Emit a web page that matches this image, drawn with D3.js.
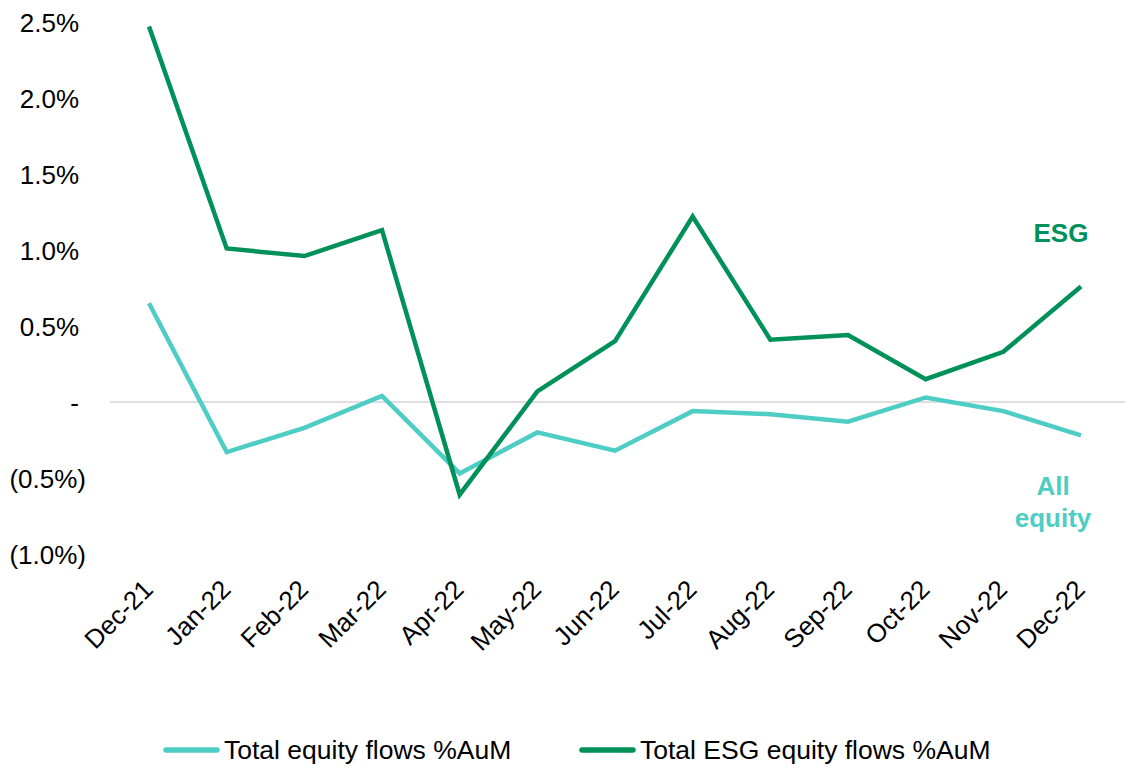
<!DOCTYPE html>
<html><head><meta charset="utf-8">
<script src="https://cdn.jsdelivr.net/npm/d3@7"></script>
<style>body{margin:0;background:#fff}svg{display:block;font-family:"Liberation Sans",Arial,sans-serif}</style>
</head><body><svg id="c" width="1125" height="768"></svg>
<script>
const categories = ["Dec-21","Jan-22","Feb-22","Mar-22","Apr-22","May-22","Jun-22","Jul-22","Aug-22","Sep-22","Oct-22","Nov-22","Dec-22"];
const allEquity = [0.65,-0.33,-0.17,0.04,-0.47,-0.20,-0.32,-0.06,-0.08,-0.13,0.03,-0.06,-0.22];
const esgEquity = [2.47,1.01,0.96,1.13,-0.61,0.07,0.40,1.22,0.41,0.44,0.15,0.33,0.76];
const yTicks = [-1.0,-0.5,0,0.5,1.0,1.5,2.0,2.5];
const seriesNames = ["Total equity flows %AuM","Total ESG equity flows %AuM"];
const colors = ["#4ECDC4","#00915A"];
const FONT = "Liberation Sans, Arial, sans-serif";

const svg = d3.select("#c");
const x = d3.scalePoint().domain(categories).range([149,1081]);
const y = d3.scaleLinear().domain([-1,2.5]).range([554,22]);

const fmt = v => v===0 ? "-" : (v<0 ? "("+Math.abs(v).toFixed(1)+"%)" : v.toFixed(1)+"%");

// y axis labels
const yAxis = d3.axisLeft(y).tickValues(yTicks).tickFormat(fmt).tickSize(0).tickPadding(0);
const ya = svg.append("g").attr("transform","translate(79,0)").call(yAxis);
ya.select(".domain").remove();
ya.selectAll("text").attr("font-size",26).attr("fill","#000").attr("font-family",FONT)
  .attr("dy","0.35em").attr("x",d=>d<0?7:0);

// zero line
svg.append("line").attr("x1",110).attr("x2",1125).attr("y1",y(0)).attr("y2",y(0))
  .attr("stroke","#bfbfbf").attr("stroke-width",1.2);

// x axis labels
const xAxis = d3.axisBottom(x).tickSize(0).tickPadding(0);
const xa = svg.append("g").attr("transform","translate(0,572)").call(xAxis);
xa.select(".domain").remove();
xa.selectAll("text").attr("font-size",26).attr("fill","#000").attr("font-family",FONT)
  .attr("text-anchor","end").attr("dy","0").attr("y",0)
  .attr("transform","translate(5,19) rotate(-45)");

const line = d3.line().x((d,i)=>x(categories[i])).y(d=>y(d));
[allEquity, esgEquity].forEach((s,k)=>{
  svg.append("path").datum(s).attr("d",line).attr("fill","none")
    .attr("stroke",colors[k]).attr("stroke-width",4.5).attr("stroke-linejoin","miter");
});

// annotations
const ann = (t,xx,yy,c)=>svg.append("text").attr("x",xx).attr("y",yy).attr("text-anchor","middle")
  .attr("font-size",26).attr("font-weight","bold").attr("font-family",FONT).attr("fill",c).text(t);
ann("ESG",1061,242,colors[1]);
ann("All",1053,495,colors[0]);
ann("equity",1053,527,colors[0]);

// legend
const legX = [164, 580];
seriesNames.forEach((n,k)=>{
  const g = svg.append("g").attr("transform",`translate(${legX[k]},750)`);
  g.append("line").attr("x1",2).attr("x2",53).attr("y1",0).attr("y2",0)
    .attr("stroke",colors[k]).attr("stroke-width",5.5).attr("stroke-linecap","round");
  g.append("text").attr("x",60).attr("y",0).attr("dy","0.35em").attr("font-size",26.5)
    .attr("font-family",FONT).attr("fill","#000").text(n);
});
</script></body></html>
